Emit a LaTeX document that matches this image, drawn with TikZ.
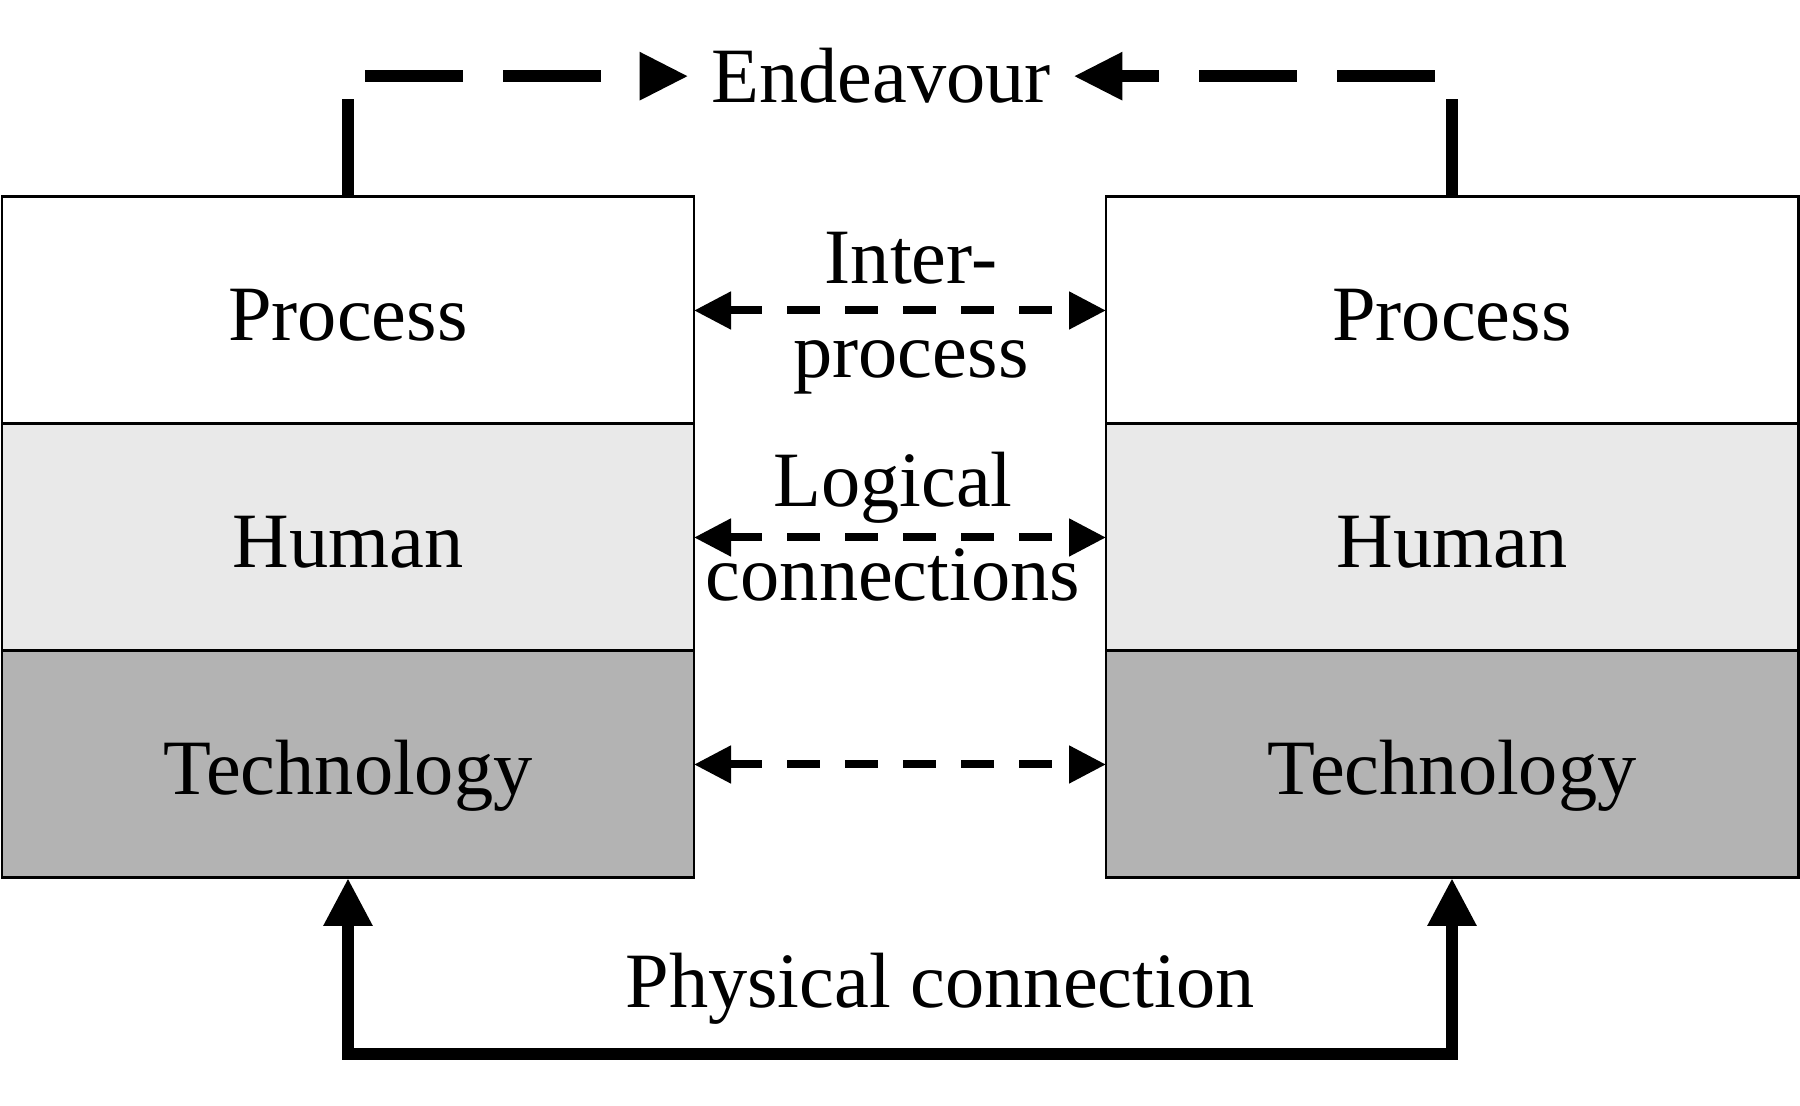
\documentclass[tikz,border=0pt]{standalone}
\usepackage{fontspec}
\setmainfont{Liberation Serif}
\usetikzlibrary{positioning,arrows.meta}
\definecolor{humgray}{HTML}{E9E9E9}
\definecolor{techgray}{HTML}{B3B3B3}
\begin{document}
\begin{tikzpicture}[font=\fontsize{22.3pt}{26.7pt}\selectfont]
      \tikzstyle{layer}=[draw,line width=0.85pt,minimum width=6.92cm,minimum height=2.27cm,inner sep=0pt,outer sep=0pt,text height=0.6cm,text depth=0cm]
      \tikzstyle{link}=[line width=0.08cm,dash pattern=on 0.33cm off 0.25cm,{Triangle[length=0.37cm,width=0.36cm]}-{Triangle[length=0.37cm,width=0.36cm]}]
      \tikzstyle{goal}=[line width=0.12cm,dash pattern=on 0.98cm off 0.4cm,-{Triangle[length=0.49cm,width=0.45cm]}]
      \tikzstyle{wire}=[line width=0.12cm,{Triangle[length=0.48cm,width=0.46cm]}-{Triangle[length=0.48cm,width=0.46cm]}]
      \useasboundingbox (0,0) rectangle (18,11.06);

      \node[layer,fill=white] (procL) at (3.48,7.955) {Process};
      \node[layer,fill=humgray,below=0cm of procL] (humL) {Human};
      \node[layer,fill=techgray,below=0cm of humL] (techL) {Technology};
      \node[layer,fill=white] (procR) at (14.52,7.955) {Process};
      \node[layer,fill=humgray,below=0cm of procR] (humR) {Human};
      \node[layer,fill=techgray,below=0cm of humR] (techR) {Technology};
      \node[inner xsep=0.22cm,anchor=base] (endeav) at (8.81,10.03) {Endeavour};
      \node[anchor=base] (phys) at (9.40,0.98) {Physical connection};

      \draw[goal] (procL.north) |- (endeav.west);
      \draw[goal] (procR.north) |- (endeav.east);
      \draw[link] (procL.east) -- node[align=center,xshift=0.11cm,yshift=-0.03cm]{Inter-\\process} (procR.west);
      \draw[link] (humL.east) -- node[align=center,xshift=-0.07cm,yshift=0.11cm]{Logical\\connections} (humR.west);
      \draw[link] (techL.east) -- (techR.west);
      \draw[wire] (techL.south) -- ++(0,-1.76) -| (techR.south);
\end{tikzpicture}
\end{document}
